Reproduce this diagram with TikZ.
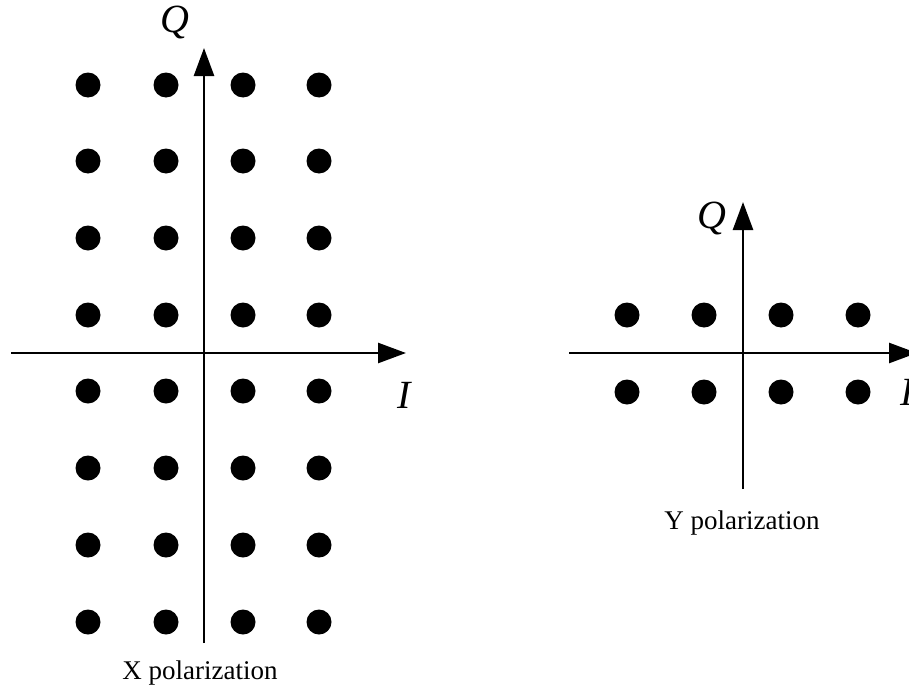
\documentclass[tikz,border=0pt]{standalone}
\usepackage{fontspec}
\setmainfont{Liberation Serif}
\usetikzlibrary{arrows.meta}

\begin{document}
\begin{tikzpicture}[x=1pt, y=-1pt,
  axis/.style={line width=2.6pt, -{Triangle[length=28pt, width=20pt]}},
  symbol/.style={circle, fill=black, inner sep=0pt, minimum size=25pt},
  axlabel/.style={font=\fontsize{40}{40}\selectfont\itshape},
  caption/.style={font=\fontsize{27}{30}\selectfont}]

  \useasboundingbox (0,0) rectangle (909,693);

  % X polarization: 4 x 8 points
  \foreach \i/\x in {1/88, 2/166, 3/243, 4/319}
    \foreach \j/\y in {1/85, 2/161, 3/238, 4/315, 5/391, 6/468, 7/545, 8/622}
      \node[symbol] (x\i\j) at (\x,\y) {};

  \coordinate (xw) at (11,353);
  \coordinate (xe) at (406,353);
  \coordinate (xs) at (204,643);
  \coordinate (xn) at (204,48);

  \draw[axis] (xw) -- (xe);
  \draw[axis] (xs) -- (xn);

  \node[axlabel] (xq) at (175,23) {Q};
  \node[axlabel] (xi) at (404,395) {I};
  \node[caption] (xcap) at (200,673) {X polarization};

  % Y polarization: 4 x 2 points
  \foreach \i/\x in {1/627, 2/704, 3/781, 4/858}
    \foreach \j/\y in {1/315, 2/392}
      \node[symbol] (y\i\j) at (\x,\y) {};

  \coordinate (yw) at (569,353);
  \coordinate (ye) at (917,353);
  \coordinate (ys) at (743,489);
  \coordinate (yn) at (743,202);

  \draw[axis] (yw) -- (ye);
  \draw[axis] (ys) -- (yn);

  \node[axlabel] (yq) at (712,218) {Q};
  \node[axlabel] (yi) at (907,392) {I};
  \node[caption] (ycap) at (742,523) {Y polarization};

\end{tikzpicture}
\end{document}
